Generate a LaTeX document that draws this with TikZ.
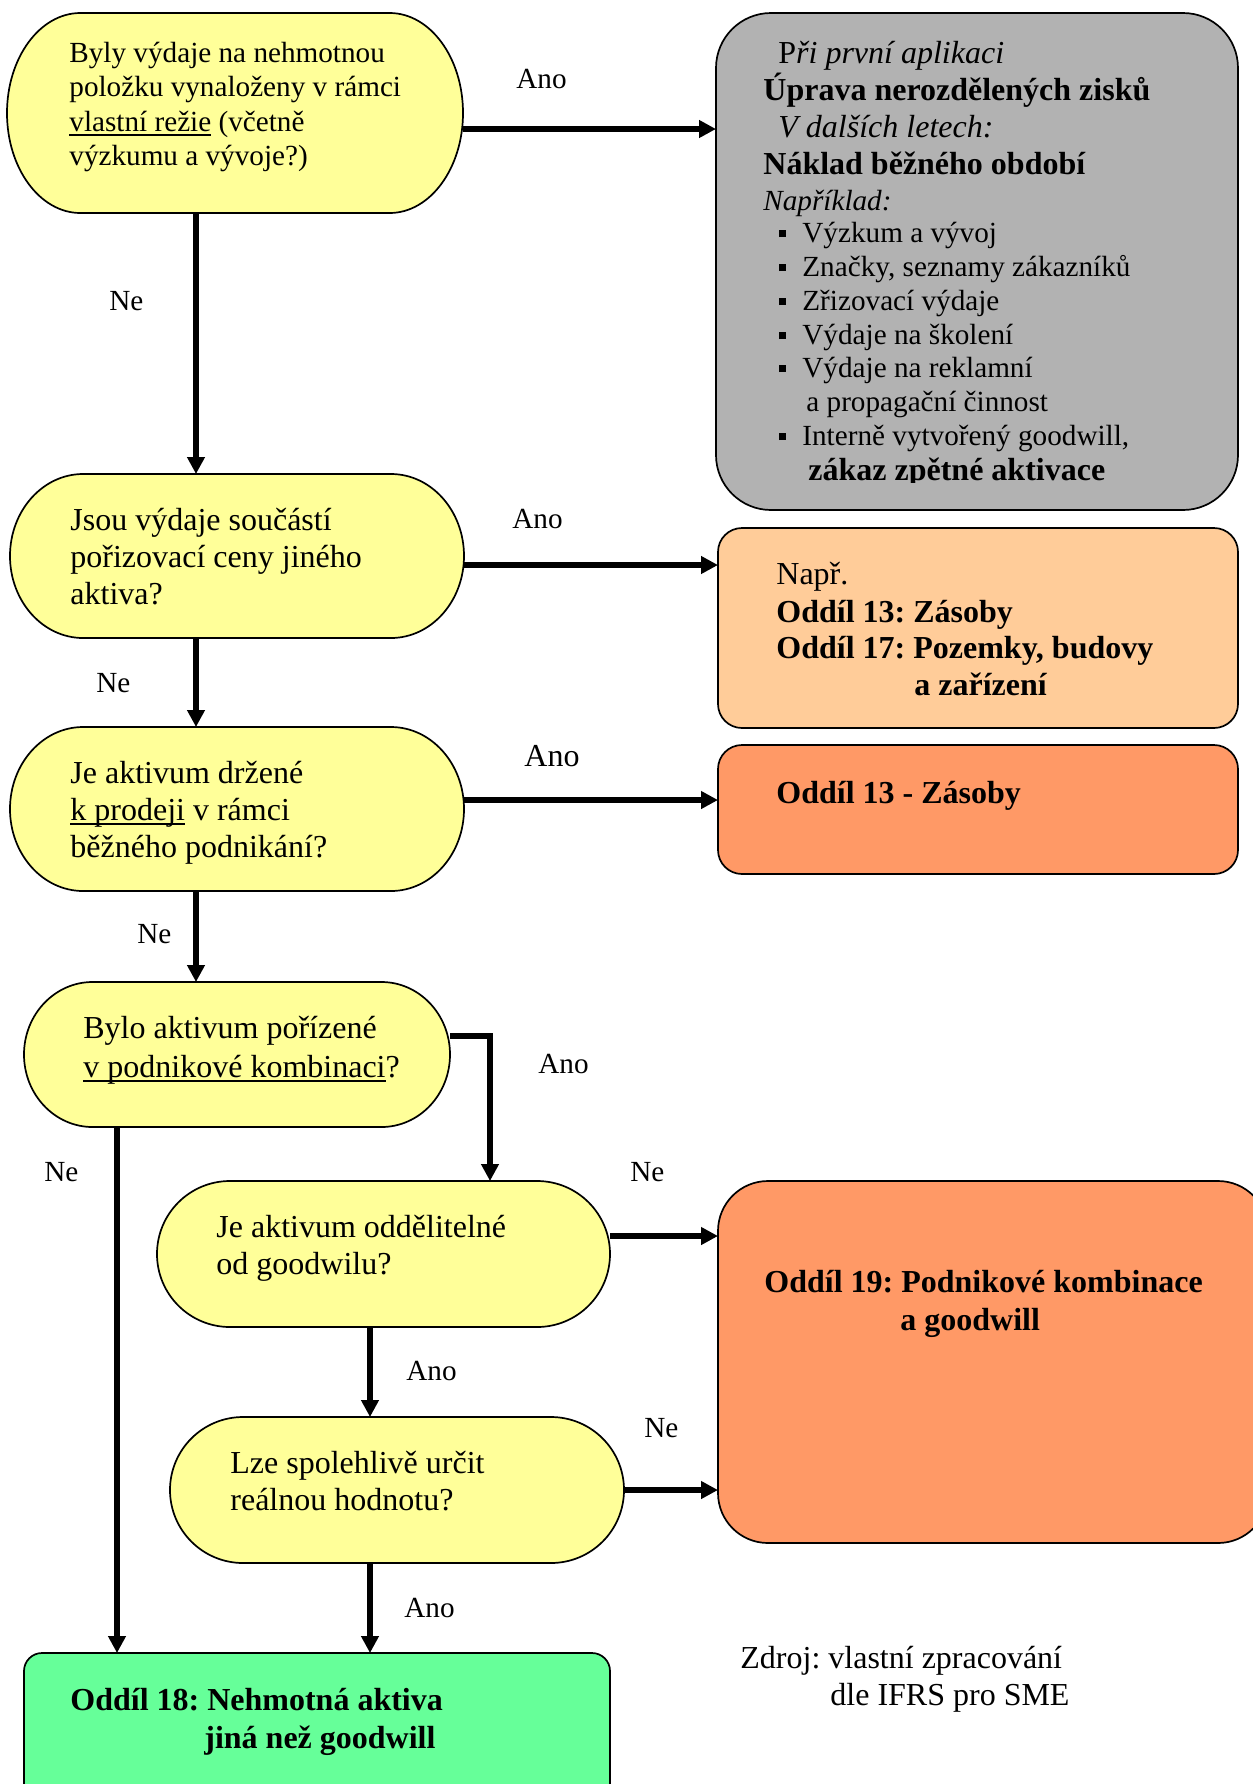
\documentclass[tikz,border=0pt]{standalone}
\usepackage{fontspec}
\setmainfont{Liberation Serif}
\usetikzlibrary{arrows.meta}
\frenchspacing

\definecolor{decfill}{HTML}{FFFF99}
\definecolor{grayfill}{HTML}{B2B2B2}
\definecolor{peachfill}{HTML}{FFCC99}
\definecolor{orangefill}{HTML}{FF9966}
\definecolor{greenfill}{HTML}{66FF99}

% text helpers
\newcommand\txtrows[1]{\begin{tabular}[t]{@{}l@{}}#1\end{tabular}}
\newcommand\uln[1]{\setbox0=\hbox{#1}\rlap{\rule[-2.5pt]{\wd0}{1pt}}\box0\relax}
\newcommand\sqb{\llap{\rule[2.5pt]{3.5pt}{3.5pt}\hspace{8pt}}}
\newcommand\fsmall{\fontsize{14.6}{17.25}\selectfont}
\newcommand\fbig{\fontsize{16}{18.5}\selectfont}

% terminator-shaped decision box: name, left, top, right, bottom (y downwards)
\newcommand\termbox[5]{%
  \path[termline] ({#2+0.161*(#4-#2)},-#3) -- ({#4-0.161*(#4-#2)},-#3)
    arc[start angle=90, end angle=-90, x radius={0.161*(#4-#2)}, y radius={(#5-#3)/2}]
    -- ({#2+0.161*(#4-#2)},-#5)
    arc[start angle=270, end angle=90, x radius={0.161*(#4-#2)}, y radius={(#5-#3)/2}]
    -- cycle;
  \node[anchorbox, minimum width={(#4-#2)*0.5pt}, minimum height={(#5-#3)*0.5pt}]
    (#1) at ({(#2+#4)/2},{-(#3+#5)/2}) {};
}

\begin{document}
\begin{tikzpicture}[x=0.5pt, y=0.5pt,
  termline/.style={draw=black, line width=0.85pt, fill=decfill},
  anchorbox/.style={shape=rectangle, draw=none, inner sep=0pt, outer sep=0pt},
  rbox/.style={shape=rectangle, draw=black, line width=0.85pt, inner sep=0pt, outer sep=0pt},
  lbl/.style={inner sep=0pt, anchor=base west, font=\fsmall},
  lblbig/.style={inner sep=0pt, anchor=base west, font=\fbig},
  conn/.style={line width=3pt, -{Triangle[length=8.5pt,width=8.5pt]}}]

\useasboundingbox (0,0) rectangle (1253,-1784);
\clip (0,0) rectangle (1253,-1784);
\fill[white] (0,0) rectangle (1253,-1784);

% decision boxes
\termbox{d1}{7}{13}{463}{213}
\termbox{d2}{10}{474}{464}{638}
\termbox{d3}{10}{727}{464}{891}
\termbox{d4}{24}{982}{450}{1127}
\termbox{d5}{157}{1181}{610}{1327}
\termbox{d6}{170}{1417}{624}{1563}

% outcome boxes
\node[rbox, fill=grayfill, rounded corners=27.5pt, minimum width=261pt, minimum height=248.5pt] (gray) at (977,-261.5) {};
\node[rbox, fill=peachfill, rounded corners=12pt, minimum width=260pt, minimum height=100pt] (peach) at (978,-628) {};
\node[rbox, fill=orangefill, rounded corners=12pt, minimum width=260pt, minimum height=64.5pt] (inv) at (978,-809.5) {};
\node[rbox, fill=orangefill, rounded corners=25pt, minimum width=275pt, minimum height=181pt] (bc) at (993,-1362) {};
\node[rbox, fill=greenfill, rounded corners=9pt, minimum width=293pt, minimum height=83.5pt] (ia) at (317,-1736.5) {};

% decision texts
\node[lbl] (t1) at (69,-62) {\txtrows{Byly výdaje na nehmotnou\\ položku vynaloženy v rámci\\ \uln{vlastní režie} (včetně\\ výzkumu a vývoje?)}};
\node[lblbig] (t2) at (70,-530) {\txtrows{Jsou výdaje součástí\\ pořizovací ceny jiného\\ aktiva?}};
\node[lblbig] (t3) at (70,-783) {\txtrows{Je aktivum držené\\ \uln{k prodeji} v rámci\\ běžného podnikání?}};
\node[lblbig] (t4) at (83,-1038) {\txtrows{Bylo aktivum pořízené\\[1pt] \uln{v podnikové kombinaci}?}};
\node[lblbig] (t5) at (216,-1237) {\txtrows{Je aktivum oddělitelné\\ od goodwilu?}};
\node[lblbig] (t6) at (230,-1473) {\txtrows{Lze spolehlivě určit\\ reálnou hodnotu?}};

% gray box text
\node[lblbig] (g1) at (778,-63) {P\textit{ři první aplikaci}};
\node[lblbig, font=\fbig\bfseries] (g2) at (763,-100) {Úprava nerozdělených zisků};
\node[lblbig, font=\fbig\itshape] (g3) at (778,-137) {V dalších letech:};
\node[lblbig, font=\fbig\bfseries] (g4) at (763,-174) {Náklad běžného období};
\node[lbl, font=\fsmall\itshape] (g5) at (763,-210) {Například:};
\node[lbl] (g6) at (802,-242) {\sqb Výzkum a vývoj};
\node[lbl] (g7) at (802,-276) {\sqb Značky, seznamy zákazníků};
\node[lbl] (g8) at (802,-310) {\sqb Zřizovací výdaje};
\node[lbl] (g9) at (802,-344) {\sqb Výdaje na školení};
\node[lbl] (g10) at (802,-377) {\sqb Výdaje na reklamní};
\node[lbl] (g11) at (806,-411) {a propagační činnost};
\node[lbl] (g12) at (802,-445) {\sqb Interně vytvořený goodwill,};
\begin{scope}
  \clip (700,-420) rectangle (1240,-482);
  \node[lblbig, font=\fbig\bfseries] (g13) at (808,-480) {zákaz zpětné aktivace};
\end{scope}

% other box texts
\node[lblbig] (p1) at (776,-584) {Např.};
\node[lblbig, font=\fbig\bfseries] (p2) at (776,-622) {Oddíl 13: Zásoby};
\node[lblbig, font=\fbig\bfseries] (p3) at (776,-658) {Oddíl 17: Pozemky, budovy};
\node[lblbig, font=\fbig\bfseries] (p4) at (914,-695) {a zařízení};
\node[lblbig, font=\fbig\bfseries] (i1) at (776,-803) {Oddíl 13 - Zásoby};
\node[lblbig, font=\fbig\bfseries] (b1) at (764,-1292) {Oddíl 19: Podnikové kombinace};
\node[lblbig, font=\fbig\bfseries] (b2) at (900,-1330) {a goodwill};
\node[lblbig, font=\fbig\bfseries] (a1) at (70,-1710) {Oddíl 18: Nehmotná aktiva};
\node[lblbig, font=\fbig\bfseries] (a2) at (204,-1748) {jiná než goodwill};
\node[lblbig] (s1) at (740,-1668) {Zdroj: vlastní zpracování};
\node[lblbig] (s2) at (830,-1705) {dle IFRS pro SME};

% branch labels
\node[lbl] (y1) at (516,-88) {Ano};
\node[lbl] (n1) at (109,-310) {Ne};
\node[lbl] (y2) at (512,-528) {Ano};
\node[lbl] (n2) at (96,-692) {Ne};
\node[lblbig] (y3) at (524,-766) {Ano};
\node[lbl] (n3) at (137,-943) {Ne};
\node[lbl] (y4) at (538,-1073) {Ano};
\node[lbl] (n4) at (44,-1181) {Ne};
\node[lbl] (n5) at (630,-1181) {Ne};
\node[lbl] (y5) at (406,-1380) {Ano};
\node[lbl] (n6) at (644,-1437) {Ne};
\node[lbl] (y6) at (404,-1617) {Ano};

% connectors
\draw[conn] ([yshift=-8pt]d1.east) -- ([yshift=-8pt]d1.east -| gray.west);
\draw[conn] ([yshift=-4.5pt]d2.east) -- ([yshift=-4.5pt]d2.east -| peach.west);
\draw[conn] ([yshift=4.5pt]d3.east) -- ([yshift=4.5pt]d3.east -| inv.west);
\draw[conn] ([yshift=9pt]d5.east) -- ([yshift=9pt]d5.east -| bc.west);
\draw[conn] (d6.east) -- (d6.east -| bc.west);
\draw[conn] ([xshift=-19.5pt]d1.south) -- ([xshift=-19.5pt]d1.south |- d2.north);
\draw[conn] ([xshift=-20.5pt]d2.south) -- ([xshift=-20.5pt]d2.south |- d3.north);
\draw[conn] ([xshift=-20.5pt]d3.south) -- ([xshift=-20.5pt]d3.south |- d4.north);
\draw[conn] ([yshift=9.25pt]d4.east) -| ([xshift=53.25pt]d5.north);
\draw[conn] ([xshift=-60pt]d4.south) -- ([xshift=-60pt]d4.south |- ia.north);
\draw[conn] ([xshift=-6.75pt]d5.south) -- ([xshift=-6.75pt]d5.south |- d6.north);
\draw[conn] ([xshift=-13.5pt]d6.south) -- ([xshift=-13.5pt]d6.south |- ia.north);

\end{tikzpicture}
\end{document}
